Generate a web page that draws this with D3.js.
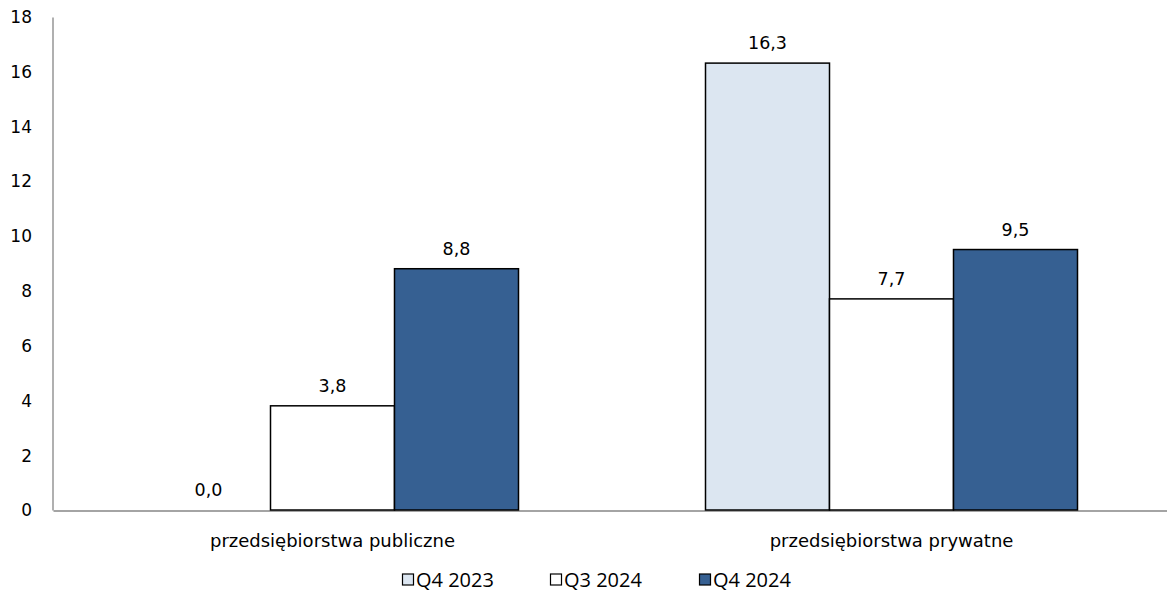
<!DOCTYPE html>
<html><head><meta charset="utf-8">
<script src="https://cdn.jsdelivr.net/npm/d3@7/dist/d3.min.js"></script>
<style>body{margin:0;background:#fff;}svg{display:block;}text{font-family:"DejaVu Sans",Verdana,sans-serif;fill:#000;}</style>
</head><body>
<svg id="c" width="1167" height="592"></svg>
<script>
const categories = ["przedsiębiorstwa publiczne", "przedsiębiorstwa prywatne"];
const seriesNames = ["Q4 2023", "Q3 2024", "Q4 2024"];
const seriesColors = ["#dce6f1", "#ffffff", "#366092"];
const q4_2023 = [0.0, 16.3];
const q3_2024 = [3.8, 7.7];
const q4_2024 = [8.8, 9.5];
const yTicks = [0, 2, 4, 6, 8, 10, 12, 14, 16, 18];
const seriesValues = [q4_2023, q3_2024, q4_2024];

const svg = d3.select("#c");
const x0 = d3.scaleBand().domain(categories).range([53, 1171]).paddingInner(0).paddingOuter(0);
const y = d3.scaleLinear().domain([0, 18]).range([510, 16.5]);
const groupW = 372;
const x1 = d3.scaleBand().domain(seriesNames).range([0, groupW]).padding(0);

// axes
const yAxis = svg.append("g").attr("transform", "translate(53,0)")
  .call(d3.axisLeft(y).tickValues(yTicks).tickSize(0).tickPadding(21).tickFormat(d3.format("d")));
yAxis.select(".domain").attr("stroke", "#868686").attr("stroke-width", 1.3).attr("d", "M0,17.5V510.5");
yAxis.selectAll("text").attr("font-size", 17).style("font-family", '"DejaVu Sans",Verdana,sans-serif').attr("dy", "0.35em");

const xAxis = svg.append("g").attr("transform", "translate(0,510.5)")
  .call(d3.axisBottom(x0).tickSize(0).tickPadding(24));
xAxis.select(".domain").attr("stroke", "#868686").attr("stroke-width", 1.3);
xAxis.selectAll("text").attr("font-size", 18).style("font-family", '"DejaVu Sans",Verdana,sans-serif');

// bars
const groups = svg.append("g").selectAll("g").data(categories).join("g")
  .attr("transform", d => `translate(${x0(d) + (x0.bandwidth() - groupW) / 2},0)`);
groups.each(function(cat, ci) {
  const g = d3.select(this);
  seriesNames.forEach((s, si) => {
    const v = seriesValues[si][ci];
    if (v > 0) {
      g.append("rect").attr("x", x1(s)).attr("y", y(v)).attr("width", x1.bandwidth()).attr("height", y(0) - y(v))
        .attr("fill", seriesColors[si]).attr("stroke", "#000").attr("stroke-width", 1.5);
    }
    g.append("text").attr("x", x1(s) + x1.bandwidth() / 2).attr("y", y(v) - 14)
      .attr("text-anchor", "middle").attr("font-size", 17.5)
      .text(d3.format(".1f")(v).replace(".", ","));
  });
});

// legend
const legendX = [402, 550, 699];
const lg = svg.append("g").selectAll("g").data(seriesNames).join("g")
  .attr("transform", (d, i) => `translate(${legendX[i]},579.5)`);
lg.append("rect").attr("x", 0.5).attr("y", -5.5).attr("width", 11).attr("height", 11)
  .attr("fill", (d, i) => seriesColors[i]).attr("stroke", "#000").attr("stroke-width", 1.2);
lg.append("text").attr("x", 14).attr("y", 7.5).attr("font-size", 20)
  .style("font-family", '"Open Sans","Noto Sans",sans-serif').text(d => d);
</script>
</body></html>
